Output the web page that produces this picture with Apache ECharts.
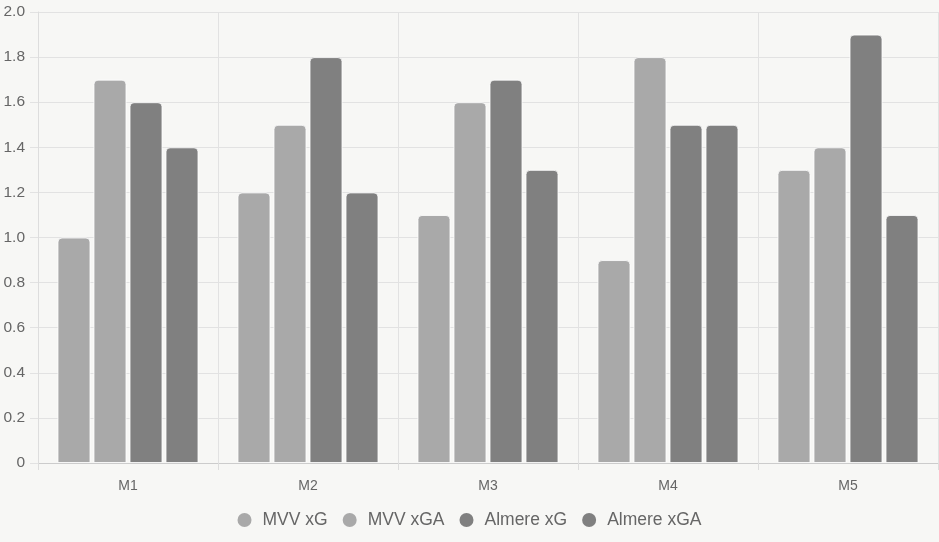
<!DOCTYPE html>
<html><head><meta charset="utf-8">
<script src="https://cdn.jsdelivr.net/npm/echarts@6/dist/echarts.min.js"></script>
<style>html,body{margin:0;padding:0;background:#f7f7f5}#c{width:939px;height:542px}</style>
</head><body><div id="c"></div>
<script>
const categories = ['M1','M2','M3','M4','M5'];
const mvvXG = [1.0, 1.2, 1.1, 0.9, 1.3];
const mvvXGA = [1.7, 1.5, 1.6, 1.8, 1.4];
const almereXG = [1.6, 1.8, 1.7, 1.5, 1.9];
const almereXGA = [1.4, 1.2, 1.3, 1.5, 1.1];
const seriesNames = ['MVV xG','MVV xGA','Almere xG','Almere xGA'];
const seriesColors = ['#a9a9a9','#a9a9a9','#808080','#808080'];
const seriesData = [mvvXG, mvvXGA, almereXG, almereXGA];

const chart = echarts.init(document.getElementById('c'));
chart.setOption({
  backgroundColor: '#f7f7f5',
  animation: false,
  textStyle: {fontFamily: 'Liberation Sans, Arial, sans-serif'},
  grid: {left: 38, right: 1, top: 12, bottom: 79, show: false},
  legend: {
    bottom: 8, left: 'center', icon: 'circle', itemWidth: 14, itemHeight: 14, itemGap: 15,
    itemStyle: {borderWidth: 0},
    textStyle: {color: '#666', fontSize: 17.5, padding: [0,0,0,6]}
  },
  xAxis: {
    type: 'category', data: categories,
    axisLine: {lineStyle: {color: '#ccc'}},
    axisTick: {show: true, length: 7, lineStyle: {color: '#ddd'}},
    splitLine: {show: true, lineStyle: {color: '#e2e2e2'}},
    axisLabel: {color: '#666', fontSize: 14, margin: 16}
  },
  yAxis: {
    type: 'value', min: 0, max: 2.0, interval: 0.2,
    axisLine: {show: true, lineStyle: {color: '#ddd'}},
    axisTick: {show: true, length: 8, lineStyle: {color: '#e2e2e2'}},
    splitLine: {lineStyle: {color: '#e2e2e2'}},
    axisLabel: {color: '#666', fontSize: 15.5, margin: 13,
      formatter: v => v === 0 ? '0' : v.toFixed(1)}
  },
  series: seriesData.map((d, i) => ({
    name: seriesNames[i], type: 'bar', data: d,
    barWidth: 33, barGap: '9.1%', barCategoryGap: '21.7%',
    itemStyle: {color: seriesColors[i], borderRadius: [4,4,0,0], borderColor: 'rgba(255,255,255,0.8)', borderWidth: 1}
  }))
});
</script></body></html>
